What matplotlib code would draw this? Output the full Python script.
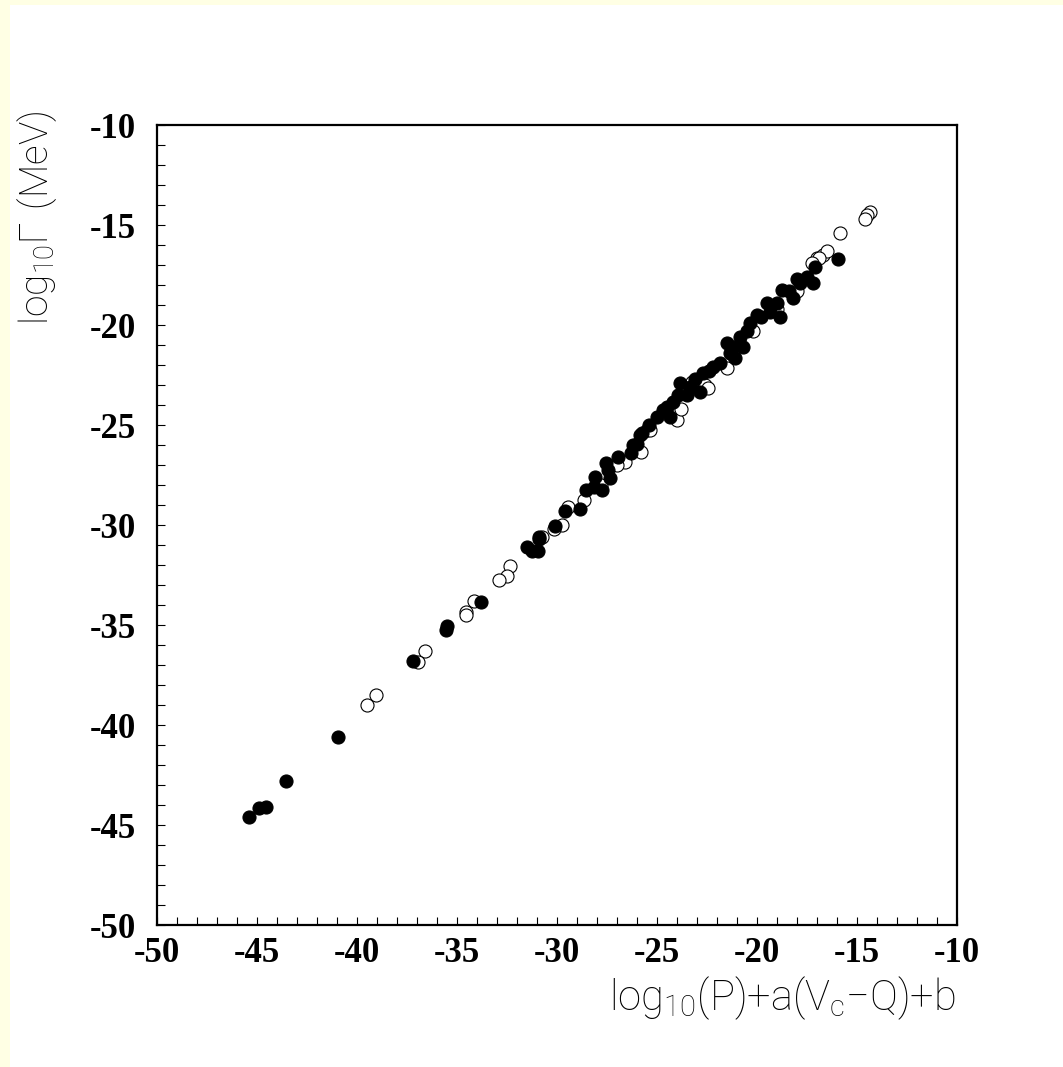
import numpy as np
import matplotlib
matplotlib.use('Agg')
import matplotlib.pyplot as plt
from matplotlib.patches import Rectangle

plt.rcParams['axes.unicode_minus'] = False

# filled circles
filled_x = [-45.39, -44.92, -44.57, -43.54, -40.94, -37.19, -35.49, -35.55, -33.82,
            -31.49, -31.27, -30.94, -30.89, -30.89, -30.10, -29.60, -28.85, -28.55,
            -28.10, -28.14, -27.77, -27.55, -27.35, -27.44, -26.94, -26.30, -26.02,
            -26.19, -25.85, -25.77, -25.02, -24.69, -24.35, -24.19, -23.94, -23.85,
            -23.52, -23.35, -22.85, -22.69, -22.19, -21.85, -21.35, -21.10, -20.85,
            -20.69, -21.52, -20.35, -20.02, -19.52, -19.35, -18.85, -18.77, -18.19,
            -17.85, -17.52, -17.19, -17.10, -15.97, -24.50, -22.40, -21.20, -19.80,
            -19.00, -18.40, -25.40, -23.10, -20.50, -18.00]
filled_y = [-44.62, -44.15, -44.08, -42.82, -40.62, -36.80, -35.05, -35.25, -33.83,
            -31.08, -31.30, -31.30, -30.70, -30.58, -30.03, -29.29, -29.22, -28.25,
            -27.58, -28.08, -28.25, -26.92, -27.67, -27.25, -26.58, -26.42, -25.95,
            -26.00, -25.50, -25.42, -24.58, -24.25, -24.58, -23.83, -23.50, -22.92,
            -23.50, -23.08, -23.33, -22.42, -22.08, -21.92, -21.42, -21.67, -20.58,
            -21.08, -20.92, -19.92, -19.50, -18.92, -19.33, -19.58, -18.25, -18.67,
            -17.92, -17.58, -17.92, -17.08, -16.72, -24.10, -22.30, -21.10, -19.60,
            -18.90, -18.30, -25.00, -22.70, -20.30, -17.70]

# open circles
open_x = [-36.59, -36.94, -39.05, -39.52, -29.77, -30.15, -30.77, -32.35, -32.52,
          -32.92, -34.14, -34.55, -34.55, -29.44, -28.64, -26.60, -25.82, -25.52,
          -25.35, -24.02, -23.27, -22.60, -22.44, -21.52, -17.02, -16.69, -14.35,
          -14.52, -14.60, -15.85, -16.52, -16.90, -17.27, -27.00, -20.20, -19.00,
          -18.00, -21.20, -23.80, -27.80]
open_y = [-36.29, -36.84, -38.50, -39.02, -30.00, -30.22, -30.58, -32.03, -32.55,
          -32.75, -33.78, -34.33, -34.50, -29.12, -28.75, -26.83, -26.33, -25.25,
          -25.25, -24.75, -22.83, -23.00, -23.17, -22.17, -16.67, -16.50, -14.33,
          -14.50, -14.72, -15.38, -16.28, -16.67, -16.88, -27.00, -20.30, -19.20,
          -18.30, -21.50, -24.20, -28.00]

xticks = [-50, -45, -40, -35, -30, -25, -20, -15, -10]
yticks = [-50, -45, -40, -35, -30, -25, -20, -15, -10]

fig = plt.figure(figsize=(10.63, 10.67), dpi=100, facecolor='white')
# pale yellow strips on left and top edges
fig.add_artist(Rectangle((0, 0), 10 / 1063, 1, transform=fig.transFigure,
                         facecolor='#ffffe4', edgecolor='none', zorder=-10))
fig.add_artist(Rectangle((0, 1 - 5 / 1067), 1, 5 / 1067, transform=fig.transFigure,
                         facecolor='#ffffe4', edgecolor='none', zorder=-10))

ax = fig.add_axes([157 / 1063, 1 - 925 / 1067, 800 / 1063, 800 / 1067])
ax.set_facecolor('white')

ax.plot(open_x, open_y, 'o', ms=9.4, mfc='white', mec='black', mew=0.8, ls='none')
ax.plot(filled_x, filled_y, 'o', ms=9.4, mfc='black', mec='black', mew=0.8, ls='none')

ax.set_xlim(-50, -10)
ax.set_ylim(-50, -10)
ax.set_xticks(xticks)
ax.set_yticks(yticks)
ax.set_xticks(np.arange(-50, -9, 1), minor=True)
ax.set_yticks(np.arange(-50, -9, 1), minor=True)

for s in ax.spines.values():
    s.set_linewidth(1.6)

ax.tick_params(which='both', direction='in', length=6, width=0.8,
               top=False, right=False)
ax.tick_params(axis='y', which='major', pad=15)
ax.tick_params(axis='x', which='major', pad=9)
for lab in ax.get_xticklabels() + ax.get_yticklabels():
    lab.set_fontfamily('Liberation Serif')
    lab.set_fontweight('bold')
    lab.set_fontsize(25)

fig.text(955 / 1063, 1 - 998 / 1067, r'$\mathregular{log_{10}(P){+}a(V_c{-}Q){+}b}$',
         ha='right', va='center', family='Roboto', weight='light', size=30)
fig.text(37 / 1063, 1 - 218 / 1067, r'$\mathregular{log_{10}\Gamma\ (MeV)}$',
         ha='center', va='center', rotation=90, family='Roboto', weight='light', size=28)

fig.savefig('out.png', dpi=100, facecolor=fig.get_facecolor())
